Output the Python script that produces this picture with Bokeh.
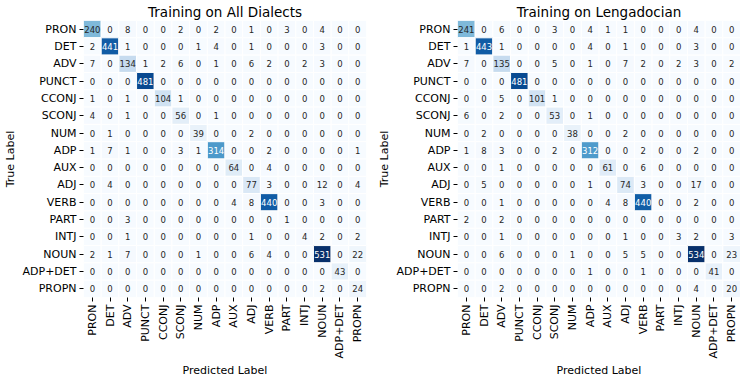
import math
from bokeh.plotting import figure
from bokeh.layouts import row
from bokeh.models import ColumnDataSource, FactorRange, LinearColorMapper
from bokeh.transform import transform
from bokeh.core.properties import value
from bokeh.embed import file_html
from bokeh.resources import INLINE

labels = ["PRON", "DET", "ADV", "PUNCT", "CCONJ", "SCONJ", "NUM", "ADP",
          "AUX", "ADJ", "VERB", "PART", "INTJ", "NOUN", "ADP+DET", "PROPN"]

all_dialects = [
    [240, 0, 8, 0, 0, 2, 0, 2, 0, 1, 0, 3, 0, 4, 0, 0],
    [2, 441, 1, 0, 0, 0, 1, 4, 0, 1, 0, 0, 0, 3, 0, 0],
    [7, 0, 134, 1, 2, 6, 0, 1, 0, 6, 2, 0, 2, 3, 0, 0],
    [0, 0, 0, 481, 0, 0, 0, 0, 0, 0, 0, 0, 0, 0, 0, 0],
    [1, 0, 1, 0, 104, 1, 0, 0, 0, 0, 0, 0, 0, 0, 0, 0],
    [4, 0, 1, 0, 0, 56, 0, 1, 0, 0, 0, 0, 0, 0, 0, 0],
    [0, 1, 0, 0, 0, 0, 39, 0, 0, 2, 0, 0, 0, 0, 0, 0],
    [1, 7, 1, 0, 0, 3, 1, 314, 0, 0, 2, 0, 0, 0, 0, 1],
    [0, 0, 0, 0, 0, 0, 0, 0, 64, 0, 4, 0, 0, 0, 0, 0],
    [0, 4, 0, 0, 0, 0, 0, 0, 0, 77, 3, 0, 0, 12, 0, 4],
    [0, 0, 0, 0, 0, 0, 0, 0, 4, 8, 440, 0, 0, 3, 0, 0],
    [0, 0, 3, 0, 0, 0, 0, 0, 0, 0, 0, 1, 0, 0, 0, 0],
    [0, 0, 1, 0, 0, 0, 0, 0, 0, 1, 0, 0, 4, 2, 0, 2],
    [2, 1, 7, 0, 0, 0, 1, 0, 0, 6, 4, 0, 0, 531, 0, 22],
    [0, 0, 0, 0, 0, 0, 0, 0, 0, 0, 0, 0, 0, 0, 43, 0],
    [0, 0, 0, 0, 0, 0, 0, 0, 0, 0, 0, 0, 0, 2, 0, 24],
]

lengadocian = [
    [241, 0, 6, 0, 0, 3, 0, 4, 1, 1, 0, 0, 0, 4, 0, 0],
    [1, 443, 1, 0, 0, 0, 0, 4, 0, 1, 0, 0, 0, 3, 0, 0],
    [7, 0, 135, 0, 0, 5, 0, 1, 0, 7, 2, 0, 2, 3, 0, 2],
    [0, 0, 0, 481, 0, 0, 0, 0, 0, 0, 0, 0, 0, 0, 0, 0],
    [0, 0, 5, 0, 101, 1, 0, 0, 0, 0, 0, 0, 0, 0, 0, 0],
    [6, 0, 2, 0, 0, 53, 0, 1, 0, 0, 0, 0, 0, 0, 0, 0],
    [0, 2, 0, 0, 0, 0, 38, 0, 0, 2, 0, 0, 0, 0, 0, 0],
    [1, 8, 3, 0, 0, 2, 0, 312, 0, 0, 2, 0, 0, 2, 0, 0],
    [0, 0, 1, 0, 0, 0, 0, 0, 61, 0, 6, 0, 0, 0, 0, 0],
    [0, 5, 0, 0, 0, 0, 0, 1, 0, 74, 3, 0, 0, 17, 0, 0],
    [0, 0, 1, 0, 0, 0, 0, 0, 4, 8, 440, 0, 0, 2, 0, 0],
    [2, 0, 2, 0, 0, 0, 0, 0, 0, 0, 0, 0, 0, 0, 0, 0],
    [0, 0, 1, 0, 0, 0, 0, 0, 0, 1, 0, 0, 3, 2, 0, 3],
    [0, 0, 6, 0, 0, 0, 1, 0, 0, 5, 5, 0, 0, 534, 0, 23],
    [0, 0, 0, 0, 0, 0, 0, 1, 0, 0, 1, 0, 0, 0, 41, 0],
    [0, 0, 2, 0, 0, 0, 0, 0, 0, 0, 0, 0, 0, 4, 0, 20],
]

titles = ["Training on All Dialects", "Training on Lengadocian"]

FONT = "DejaVu Sans"
BLUES9 = ["#f7fbff", "#deebf7", "#c6dbef", "#9ecae1", "#6baed6",
          "#4292c6", "#2171b5", "#08519c", "#08306b"]


def hex2rgb(h):
    return [int(h[i:i + 2], 16) for i in (1, 3, 5)]


def interp_palette(cols, n):
    rgb = [hex2rgb(c) for c in cols]
    out = []
    for k in range(n):
        t = k / (n - 1) * (len(rgb) - 1)
        i = min(int(t), len(rgb) - 2)
        f = t - i
        c = [round(rgb[i][m] + (rgb[i + 1][m] - rgb[i][m]) * f) for m in range(3)]
        out.append("#%02x%02x%02x" % tuple(c))
    return out


PAL = interp_palette(BLUES9, 256)


def lum(h):
    r = []
    for c in hex2rgb(h):
        c = c / 255
        r.append(c / 12.92 if c <= 0.03928 else ((c + 0.055) / 1.055) ** 2.4)
    return 0.2126 * r[0] + 0.7152 * r[1] + 0.0722 * r[2]


def make(mat, title, right_border):
    vmax = max(max(r) for r in mat)
    xs, ys, vals, txt, tcol = [], [], [], [], []
    for i, t in enumerate(labels):
        for j, pr in enumerate(labels):
            v = mat[i][j]
            xs.append(pr)
            ys.append(t)
            vals.append(v)
            txt.append(str(v))
            idx = min(int(v / vmax * 256), 255)
            tcol.append("#262626" if lum(PAL[idx]) > 0.408 else "#ffffff")
    src = ColumnDataSource(dict(x=xs, y=ys, v=vals, t=txt, c=tcol))
    mapper = LinearColorMapper(palette=PAL, low=0, high=vmax)
    p = figure(x_range=FactorRange(*labels), y_range=FactorRange(*labels[::-1]),
               frame_width=283, frame_height=277, output_backend="svg",
               toolbar_location=None, title=title,
               min_border_left=0, min_border_right=right_border,
               min_border_top=0, min_border_bottom=0)
    p.rect(x="x", y="y", width=1, height=1, source=src,
           fill_color=transform("v", mapper), line_color="white", line_width=1)
    p.text(x="x", y="y", text="t", source=src, text_align="center",
           text_baseline="middle", text_font=value(FONT),
           text_font_size="8.5px", text_color="c")
    p.title.align = "center"
    p.title.text_font = FONT
    p.title.text_font_style = "normal"
    p.title.text_font_size = "13.5px"
    p.title.text_color = "black"
    p.title.standoff = 2
    p.xaxis.axis_label = "Predicted Label"
    p.yaxis.axis_label = "True Label"
    p.xaxis.major_label_orientation = math.pi / 2
    for ax in (p.xaxis[0], p.yaxis[0]):
        ax.axis_line_color = None
        ax.major_tick_in = 0
        ax.major_tick_out = 4
        ax.major_tick_line_color = "black"
        ax.major_label_text_font = FONT
        ax.major_label_text_font_size = "11px"
        ax.major_label_text_color = "black"
        ax.major_label_standoff = 3
        ax.axis_label_text_font = FONT
        ax.axis_label_text_font_style = "normal"
        ax.axis_label_text_font_size = "11px"
        ax.axis_label_text_color = "black"
        ax.axis_label_standoff = 3
    p.xgrid.visible = False
    p.ygrid.visible = False
    p.outline_line_color = None
    return p


p1 = make(all_dialects, titles[0], 8)
p2 = make(lengadocian, titles[1], 0)
layout = row(p1, p2)

open("out.html", "w").write(file_html(layout, INLINE))
